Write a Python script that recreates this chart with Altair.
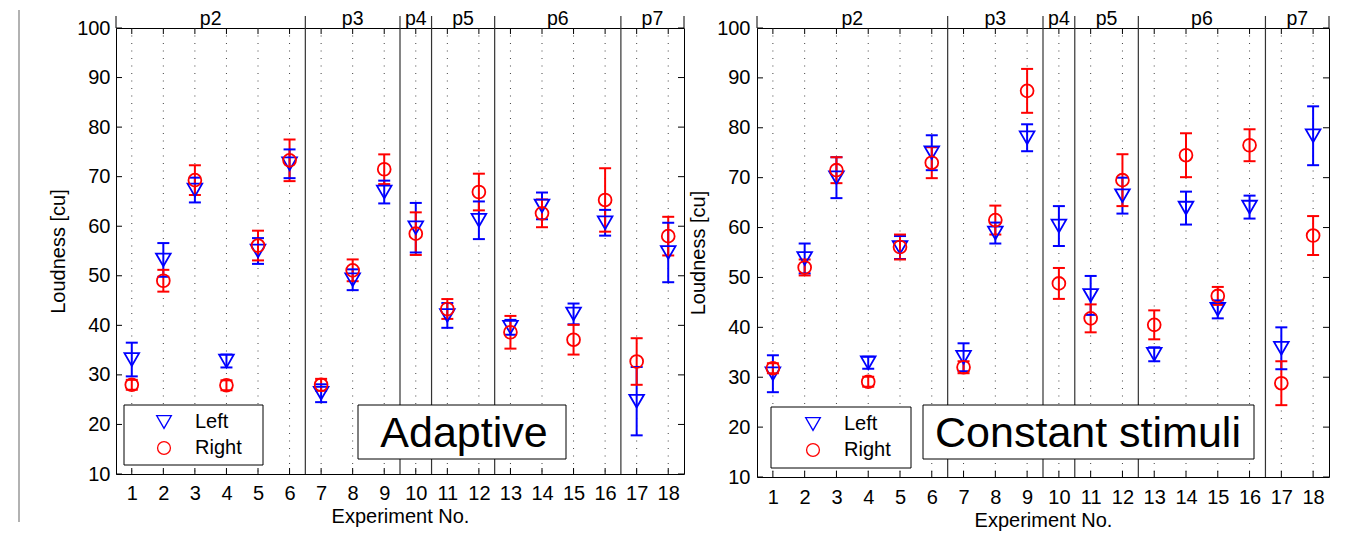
import altair as alt
import pandas as pd

FONT = "Liberation Sans"

experiments = list(range(1, 19))
participants = ["p2", "p3", "p4", "p5", "p6", "p7"]
participant_sizes = [6, 3, 1, 2, 4, 2]
panel_names = ["Adaptive", "Constant stimuli"]
series_names = ["Left", "Right"]
y_ticks = [10, 20, 30, 40, 50, 60, 70, 80, 90, 100]

# Adaptive panel
adaptive_left = [33.1, 53.2, 67.3, 32.8, 55.0, 72.6, 26.3, 49.2, 66.9, 59.7, 42.0, 61.2, 39.6, 64.1, 42.3, 60.7, 24.7, 54.7]
adaptive_left_err = [3.4, 3.4, 2.5, 1.3, 2.6, 2.9, 1.8, 2.1, 2.3, 5.0, 2.5, 3.8, 1.5, 2.7, 2.1, 2.6, 6.9, 6.0]
adaptive_right = [28.0, 49.0, 69.3, 27.9, 56.1, 73.3, 28.0, 51.1, 71.5, 58.5, 43.3, 66.9, 38.6, 62.6, 37.1, 65.3, 32.7, 58.0]
adaptive_right_err = [1.0, 2.2, 3.0, 1.0, 3.0, 4.2, 1.2, 2.2, 3.0, 4.3, 2.0, 3.7, 3.3, 2.8, 3.0, 6.4, 4.7, 3.9]

# Constant stimuli panel
constant_left = [30.7, 53.8, 70.0, 32.9, 56.0, 75.0, 34.0, 58.9, 78.0, 60.3, 46.4, 66.4, 34.6, 63.9, 43.6, 64.1, 35.8, 78.4]
constant_left_err = [3.7, 3.0, 4.1, 1.2, 2.3, 3.5, 2.8, 2.1, 2.7, 4.0, 3.9, 3.6, 1.4, 3.3, 1.8, 2.3, 4.2, 5.9]
constant_right = [31.8, 52.0, 71.5, 29.1, 56.1, 73.0, 32.0, 61.5, 87.4, 48.8, 41.8, 69.5, 40.5, 74.5, 46.3, 76.5, 28.8, 58.4]
constant_right_err = [1.0, 1.6, 2.6, 1.0, 2.5, 3.1, 1.2, 2.9, 4.4, 3.1, 2.8, 5.2, 2.9, 4.4, 1.8, 3.2, 4.4, 3.9]

series_colors = ["#0000ff", "#ff0000"]
series_shapes = ["triangle-down", "circle"]
series_sizes = [215, 165]

# participant separators and label centres derived from group sizes
seps, centers = [], []
start = 1
for n in participant_sizes:
    end = start + n - 1
    centers.append((start + end) / 2)
    seps.append(end + 0.5)
    start = end + 1
inner_seps = seps[:-1]
frame_ends = [0.5, 18.5]

xs = alt.Scale(domain=[0.5, 18.5], nice=False, zero=False)
ys = alt.Scale(domain=[10, 100], nice=False, zero=False)


def panel(name, left, left_err, right, right_err, W, H, leg_xy, leg_box, box, txt_xy,
          xlab_pad, xtitle_pad, ylab_pad, ytitle_pad, edge_rule=False):
    rows = []
    for si, (s, vals, errs) in enumerate([("Left", left, left_err), ("Right", right, right_err)]):
        for e, v, er in zip(experiments, vals, errs):
            rows.append({"experiment": e, "series": s, "value": v,
                         "lo": v - er, "hi": v + er, "col": series_colors[si]})
    df = pd.DataFrame(rows)

    xaxis = alt.Axis(values=experiments, title="Experiment No.", ticks=False, domain=False,
                     grid=False, labelFontSize=20, titleFontSize=20, labelPadding=xlab_pad,
                     titlePadding=xtitle_pad, labelFlush=False)
    yaxis = alt.Axis(values=y_ticks, title="Loudness [cu]", ticks=False, domain=False,
                     grid=False, labelFontSize=20, titleFontSize=20, labelPadding=ylab_pad,
                     titlePadding=ytitle_pad, labelFlush=False)

    X = lambda f: alt.X(f, type="quantitative", scale=xs, axis=xaxis, title="Experiment No.")
    Y = lambda f: alt.Y(f, type="quantitative", scale=ys, axis=yaxis, title="Loudness [cu]")

    grid = alt.Chart(pd.DataFrame({"e": experiments})).mark_rule(
        color="#444", strokeWidth=1, strokeDash=[1, 6.5]
    ).encode(x=X("e"), y=alt.value(0), y2=alt.value(H))

    xt_bottom = alt.Chart(pd.DataFrame({"e": experiments})).mark_rule(color="black", strokeWidth=1).encode(
        x=X("e"), y=alt.value(H - 6), y2=alt.value(H))
    xt_top = alt.Chart(pd.DataFrame({"e": experiments})).mark_rule(color="black", strokeWidth=1).encode(
        x=X("e"), y=alt.value(0), y2=alt.value(6))
    yt_left = alt.Chart(pd.DataFrame({"v": y_ticks})).mark_rule(color="black", strokeWidth=1).encode(
        y=Y("v"), x=alt.value(0), x2=alt.value(6))
    yt_right = alt.Chart(pd.DataFrame({"v": y_ticks})).mark_rule(color="black", strokeWidth=1).encode(
        y=Y("v"), x=alt.value(W - 6), x2=alt.value(W))

    sep_rules = alt.Chart(pd.DataFrame({"s": inner_seps})).mark_rule(color="#333", strokeWidth=1.2).encode(
        x=X("s"), y=alt.value(-12), y2=alt.value(H))
    end_rules = alt.Chart(pd.DataFrame({"s": frame_ends})).mark_rule(color="black", strokeWidth=1).encode(
        x=X("s"), y=alt.value(-12), y2=alt.value(0))

    plabels = alt.Chart(pd.DataFrame({"p": participants, "c": centers})).mark_text(
        font=FONT, fontSize=19.5, baseline="alphabetic", align="center", color="black"
    ).encode(x=X("c"), y=alt.value(-3), text="p:N")

    one = pd.DataFrame({"t": [name]})
    rect = alt.Chart(one).mark_rect(fill="white", stroke="black", strokeWidth=1).encode(
        x=alt.value(box[0]), x2=alt.value(box[1]), y=alt.value(box[2]), y2=alt.value(box[3]))
    label = alt.Chart(one).mark_text(font=FONT, fontSize=43, align="center", baseline="alphabetic",
                                     color="black").encode(
        x=alt.value(txt_xy[0]), y=alt.value(txt_xy[1]), text="t:N")
    leg_rect = alt.Chart(one).mark_rect(fill="white", stroke="black", strokeWidth=1).encode(
        x=alt.value(leg_box[0]), x2=alt.value(leg_box[1]), y=alt.value(leg_box[2]), y2=alt.value(leg_box[3]))

    err = alt.Chart(df).mark_rule(strokeWidth=2).encode(
        x=X("experiment"), y=Y("lo"), y2="hi", color=alt.Color("col:N", scale=None))
    cap_lo = alt.Chart(df).mark_tick(orient="horizontal", size=12, thickness=2, opacity=1).encode(
        x=X("experiment"), y=Y("lo"), color=alt.Color("col:N", scale=None))
    cap_hi = alt.Chart(df).mark_tick(orient="horizontal", size=12, thickness=2, opacity=1).encode(
        x=X("experiment"), y=Y("hi"), color=alt.Color("col:N", scale=None))

    legend = alt.Legend(title=None, orient="none", legendX=leg_xy[0], legendY=leg_xy[1],
                        padding=7, rowPadding=6, symbolOffset=21, labelOffset=21,
                        symbolSize=290, symbolStrokeWidth=1.3, labelFontSize=20, labelFont=FONT,
                        labelColor="black")

    pts = alt.Chart(df).mark_point(filled=False, strokeWidth=1.8, opacity=1).encode(
        x=X("experiment"),
        y=Y("value"),
        color=alt.Color("series:N", scale=alt.Scale(domain=series_names, range=series_colors), legend=legend),
        shape=alt.Shape("series:N", scale=alt.Scale(domain=series_names, range=series_shapes), legend=legend),
        size=alt.Size("series:N", scale=alt.Scale(domain=series_names, range=series_sizes), legend=None),
    )

    layers = [grid, xt_bottom, xt_top, yt_left, yt_right, sep_rules, end_rules, plabels,
              rect, label, leg_rect, err, cap_lo, cap_hi, pts]
    if edge_rule:
        edge = alt.Chart(one).mark_rule(color="#999", strokeWidth=1.5).encode(
            x=alt.value(-97), y=alt.value(-18), y2=alt.value(494))
        layers = [edge] + layers
    return alt.layer(*layers).properties(width=W, height=H)


left_panel = panel(panel_names[0], adaptive_left, adaptive_left_err, adaptive_right, adaptive_right_err,
                   568, 446, (10, 377), (8, 147, 377, 437), (242, 450, 377, 431), (348, 419),
                   9, 3, 6, 8, edge_rule=True)
right_panel = panel(panel_names[1], constant_left, constant_left_err, constant_right, constant_right_err,
                    572, 449, (18, 379), (14, 154, 379, 440), (166, 497, 377, 431), (331, 419),
                    10, 3, 7, 8)

chart = alt.hconcat(left_panel, right_panel, spacing=3).resolve_scale(
    color="independent", shape="independent", size="independent"
).resolve_legend(
    color="independent", shape="independent", size="independent"
).properties(
    padding={"left": 9, "top": 0, "right": 0, "bottom": 0},
    background="white",
).configure_view(
    stroke="black", strokeWidth=1
).configure_axis(
    labelFont=FONT, titleFont=FONT, labelColor="black", titleColor="black", titleFontWeight="normal"
)

chart.save("out.html", embed_options={"renderer": "svg", "actions": False})
